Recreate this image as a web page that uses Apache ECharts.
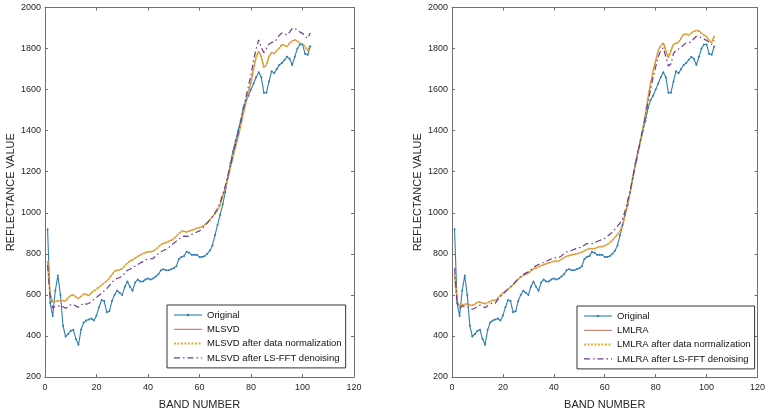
<!DOCTYPE html>
<html><head><meta charset="utf-8">
<script src="https://cdn.jsdelivr.net/npm/echarts@6/dist/echarts.min.js"></script>
<style>html,body{margin:0;padding:0;background:#fff}#c{width:768px;height:415px}</style>
</head><body><div id="c"></div>
<script>
const bands = Array.from({length:103},(_, i)=>i+1);
const xTicks = [0,20,40,60,80,100,120];
const yTicks = [200,400,600,800,1000,1200,1400,1600,1800,2000];

const original = [920,560,497,620,694,600,450,397,410,425,430,385,357,430,465,475,480,485,475,500,
540,575,570,515,520,570,600,620,610,600,640,665,640,620,660,675,665,665,675,680,
675,680,690,700,720,725,720,720,725,730,740,775,785,790,810,805,795,795,795,785,
785,790,800,815,840,890,940,990,1040,1100,1170,1240,1300,1350,1400,1450,1510,1550,1570,1600,
1630,1660,1685,1660,1585,1585,1640,1690,1680,1700,1720,1730,1745,1760,1750,1720,1760,1800,1820,1820,
1775,1770,1810];

const mlsvd = [765,600,565,568,570,572,572,570,585,598,600,590,582,592,605,602,596,610,620,628,
638,648,658,668,682,698,715,720,722,728,742,755,765,770,780,787,795,800,806,810,
810,812,822,832,845,850,855,860,866,874,886,898,910,910,906,910,915,920,925,928,
932,942,952,965,980,995,1012,1040,1080,1120,1170,1220,1272,1322,1372,1425,1482,1535,1585,1635,
1700,1760,1787,1760,1707,1722,1762,1780,1776,1790,1802,1820,1815,1810,1826,1836,1842,1836,1826,1820,
1810,1790,1815];

const mlsvdNorm = [765,600,565,568,570,572,572,570,585,598,600,590,582,592,605,602,596,610,620,628,
638,648,658,668,682,698,715,720,722,728,742,755,765,770,780,787,795,800,806,810,
810,812,822,832,845,850,855,860,866,874,886,898,910,910,906,910,915,920,925,928,
932,942,952,965,980,995,1012,1040,1080,1120,1170,1220,1272,1322,1372,1425,1482,1535,1585,1635,
1700,1760,1787,1760,1707,1722,1762,1780,1776,1790,1802,1820,1815,1810,1826,1836,1842,1836,1826,1820,
1810,1790,1815];

const mlsvdFFT = [745,590,535,545,545,548,542,535,542,552,555,545,540,550,560,555,558,568,578,588,
598,608,620,630,645,660,675,680,685,692,706,720,725,732,741,747,756,762,770,776,
776,777,790,800,810,816,822,830,840,852,862,872,882,886,885,887,895,900,906,912,
922,936,950,965,980,1000,1020,1050,1090,1130,1180,1232,1283,1334,1385,1442,1502,1562,1615,1672,
1742,1800,1842,1805,1780,1800,1822,1830,1832,1845,1865,1876,1872,1866,1880,1898,1898,1890,1880,1874,
1860,1850,1876];

const lmlra = [700,570,545,550,555,555,550,550,555,565,565,560,557,562,568,574,572,585,597,608,
618,628,638,648,662,676,686,695,700,706,716,726,732,737,742,747,752,756,760,764,
764,765,773,780,788,792,795,797,800,803,808,815,820,825,825,825,830,835,835,840,
845,855,865,880,895,910,940,990,1040,1100,1170,1230,1290,1350,1410,1480,1560,1630,1690,1740,
1790,1815,1827,1790,1755,1790,1820,1825,1830,1850,1870,1870,1865,1875,1884,1888,1886,1875,1865,1858,
1840,1830,1862];

const lmlraNorm = [700,570,545,550,555,555,550,550,555,565,565,560,557,562,568,574,572,585,597,608,
618,628,638,648,662,676,686,695,700,706,716,726,732,737,742,747,752,756,760,764,
764,765,773,780,788,792,795,797,800,803,808,815,820,825,825,825,830,835,835,840,
845,855,865,880,895,910,940,990,1040,1100,1170,1230,1290,1350,1410,1480,1560,1630,1690,1740,
1790,1815,1827,1790,1755,1790,1820,1825,1830,1850,1870,1870,1865,1875,1884,1888,1886,1875,1865,1858,
1840,1830,1862];

const lmlraFFT = [730,560,535,545,545,545,535,530,535,545,550,545,537,547,555,562,560,577,592,604,
616,628,640,650,665,680,690,700,706,712,722,733,742,748,753,758,763,770,775,780,
780,781,790,801,809,813,816,822,826,830,834,842,850,850,850,855,860,865,870,875,
885,895,905,920,935,950,970,1010,1060,1110,1170,1230,1290,1350,1410,1470,1540,1600,1660,1710,
1760,1790,1803,1760,1715,1725,1775,1792,1798,1805,1818,1828,1828,1833,1848,1860,1858,1852,1846,1840,
1830,1820,1840];

const FONT = '"Liberation Sans", Arial, sans-serif';
const TXT = '#262626';
const AX = '#707070';
const pair = arr => bands.map((b,i)=>[b, arr[i]]);

function xAx(gi, pos){
  const main = pos === 'bottom';
  return {type:'value', gridIndex:gi, position:pos, min:xTicks[0], max:xTicks[xTicks.length-1], interval:20,
    name: main ? 'BAND NUMBER' : '', nameLocation:'middle', nameGap:22,
    nameTextStyle:{fontFamily:FONT, fontSize:11, color:TXT},
    axisLine:{show:true, onZero:false, lineStyle:{color:AX, width:1}},
    axisTick:{show:true, inside:true, length:3, lineStyle:{color:AX}},
    axisLabel:{show:main, margin:6, fontFamily:FONT, fontSize:9, color:TXT, formatter:v=>String(v)},
    splitLine:{show:false}};
}
function yAx(gi, pos){
  const main = pos === 'left';
  return {type:'value', gridIndex:gi, position:pos, min:yTicks[0], max:yTicks[yTicks.length-1], interval:200,
    name: main ? 'REFLECTANCE VALUE' : '', nameLocation:'middle', nameGap:29,
    nameTextStyle:{fontFamily:FONT, fontSize:11, color:TXT},
    axisLine:{show:true, onZero:false, lineStyle:{color:AX, width:1}},
    axisTick:{show:true, inside:true, length:3, lineStyle:{color:AX}},
    axisLabel:{show:main, margin:4, fontFamily:FONT, fontSize:9, color:TXT, formatter:v=>String(v)},
    splitLine:{show:false}};
}
const C_ORIG = '#2f7db0', C_RED = '#c86a58', C_YEL = '#e2b02c', C_PUR = '#6b3a8e';
function mk(name, arr, gi, kind){
  const base = {name, type:'line', xAxisIndex:gi*2, yAxisIndex:gi*2, data:pair(arr), animation:false, z:2};
  if(kind==='orig') return Object.assign(base,{color:C_ORIG, symbol:'circle', symbolSize:2, showSymbol:true,
      lineStyle:{color:C_ORIG, width:1.1}, itemStyle:{color:C_ORIG}});
  if(kind==='red') return Object.assign(base,{color:C_RED, symbol:'none', lineStyle:{color:C_RED, width:1}});
  if(kind==='yel') return Object.assign(base,{color:C_YEL, symbol:'none', lineStyle:{color:C_YEL, width:2, type:[2,1.5]}});
  return Object.assign(base,{color:C_PUR, symbol:'none', lineStyle:{color:C_PUR, width:1.2, type:[6,3,1.5,3]}});
}
function legend(names, left, top){
  const data = names.map((n,i)=> i===0 ? {name:n} : {name:n, itemStyle:{opacity:0}});
  return {data, left, top, orient:'vertical', itemWidth:28, itemHeight:3, itemGap:0.3,
    padding:[3,4,3,6], borderColor:'#333', borderWidth:1, backgroundColor:'#fff',
    lineStyle:{width:'inherit'},
    textStyle:{fontFamily:FONT, fontSize:9.5, color:'#111', lineHeight:14}, selectedMode:false};
}
const chart = echarts.init(document.getElementById('c'), null, {renderer:'canvas'});
chart.setOption({
  backgroundColor:'#fff',
  animation:false,
  grid:[
    {left:45, top:7.5, width:309, height:373.5},
    {left:452, top:7.5, width:309, height:373.5}
  ],
  xAxis:[xAx(0,'bottom'), xAx(0,'top'), xAx(1,'bottom'), xAx(1,'top')],
  yAxis:[yAx(0,'left'), yAx(0,'right'), yAx(1,'left'), yAx(1,'right')],
  legend:[
    legend(['Original','MLSVD','MLSVD after data normalization','MLSVD after LS-FFT denoising'],167,305),
    legend(['Original ','LMLRA','LMLRA after data normalization','LMLRA after LS-FFT denoising'],577,306)
  ],
  series:[
    mk('Original', original, 0, 'orig'),
    mk('MLSVD', mlsvd, 0, 'red'),
    mk('MLSVD after data normalization', mlsvdNorm, 0, 'yel'),
    mk('MLSVD after LS-FFT denoising', mlsvdFFT, 0, 'pur'),
    mk('Original ', original, 1, 'orig'),
    mk('LMLRA', lmlra, 1, 'red'),
    mk('LMLRA after data normalization', lmlraNorm, 1, 'yel'),
    mk('LMLRA after LS-FFT denoising', lmlraFFT, 1, 'pur')
  ]
});
</script></body></html>
